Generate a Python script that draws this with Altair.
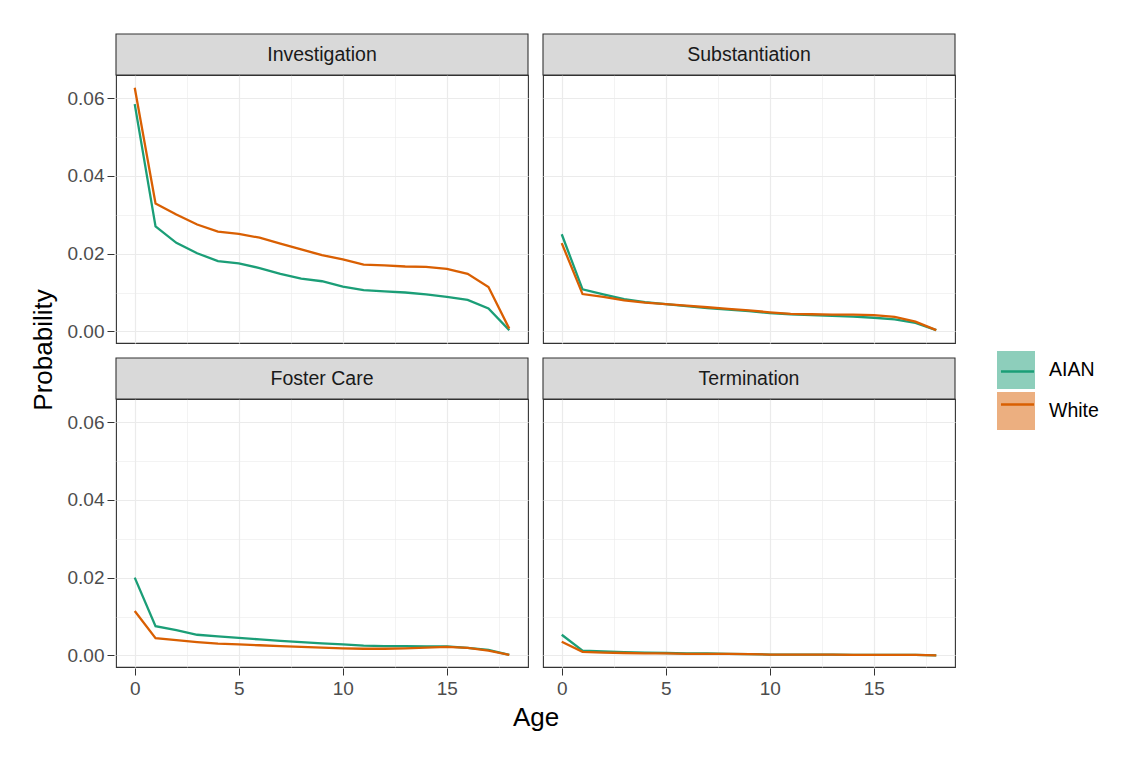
import altair as alt
import pandas as pd

ages = list(range(19))
panels = ["Investigation", "Substantiation", "Foster Care", "Termination"]
groups = ["AIAN", "White"]
line_colors = ["#1B9E77", "#D95F02"]
key_fills = ["#8DCEBB", "#ECAF80"]

inv_aian = [0.0585, 0.0270, 0.0228, 0.0201, 0.0181, 0.0175, 0.0163, 0.0148, 0.0136, 0.0129,
            0.0115, 0.0106, 0.0103, 0.0100, 0.0095, 0.0089, 0.0081, 0.0059, 0.0003]
inv_white = [0.0627, 0.0329, 0.0301, 0.0275, 0.0257, 0.0251, 0.0241, 0.0226, 0.0211, 0.0196,
             0.0185, 0.0172, 0.0170, 0.0167, 0.0166, 0.0161, 0.0148, 0.0114, 0.0007]
sub_aian = [0.0250, 0.0108, 0.0095, 0.0083, 0.0075, 0.0070, 0.0065, 0.0060, 0.0056, 0.0052,
            0.0047, 0.0044, 0.0042, 0.0040, 0.0038, 0.0035, 0.0031, 0.0022, 0.0003]
sub_white = [0.0227, 0.0096, 0.0089, 0.0080, 0.0074, 0.0070, 0.0066, 0.0062, 0.0058, 0.0054,
             0.0049, 0.0045, 0.0044, 0.0043, 0.0043, 0.0042, 0.0037, 0.0025, 0.0003]
fc_aian = [0.0200, 0.0075, 0.0065, 0.0053, 0.0049, 0.0045, 0.0041, 0.0037, 0.0034, 0.0031,
           0.0028, 0.0025, 0.0024, 0.0024, 0.0023, 0.0023, 0.0019, 0.0014, 0.0001]
fc_white = [0.0114, 0.0044, 0.0039, 0.0034, 0.0030, 0.0028, 0.0026, 0.0024, 0.0022, 0.0020,
            0.0018, 0.0017, 0.0017, 0.0018, 0.0020, 0.0022, 0.0019, 0.0012, 0.0001]
term_aian = [0.0053, 0.0012, 0.0010, 0.0008, 0.0007, 0.0006, 0.0005, 0.0005, 0.0004, 0.0003,
             0.0002, 0.0002, 0.0002, 0.0002, 0.0001, 0.0001, 0.0001, 0.0001, 0.0000]
term_white = [0.0035, 0.0009, 0.0007, 0.0006, 0.0005, 0.0005, 0.0004, 0.0004, 0.0004, 0.0003,
              0.0002, 0.0002, 0.0002, 0.0002, 0.0001, 0.0001, 0.0001, 0.0001, 0.0000]

x_ticks = [0, 2.5, 5, 7.5, 10, 12.5, 15, 17.5]
y_ticks = [0.0, 0.01, 0.02, 0.03, 0.04, 0.05, 0.06]

series = {
    "Investigation": (inv_aian, inv_white),
    "Substantiation": (sub_aian, sub_white),
    "Foster Care": (fc_aian, fc_white),
    "Termination": (term_aian, term_white),
}

rows = []
for i, p in enumerate(panels):
    for g, vals in zip(groups, series[p]):
        for a, v in zip(ages, vals):
            rows.append({"panel": p, "prow": i // 2, "pcol": i % 2, "group": g, "key": g,
                         "age": a, "prob": v})
df = pd.DataFrame(rows)

W, H = 412, 268
STRIP = 41
FONT = "Liberation Sans"
LX, LY = 881, 276

grid_w = {"condition": {"test": "datum.value % 5 != 0", "value": 0.6}, "value": 1.2}
tick_o = {"condition": {"test": "datum.value % 5 != 0", "value": 0}, "value": 1}
ygrid_w = {"condition": {"test": "round(datum.value * 100) % 2 != 0", "value": 0.6}, "value": 1.2}
ytick_o = {"condition": {"test": "round(datum.value * 100) % 2 != 0", "value": 0}, "value": 1}

x_enc = alt.X("age:Q", scale=alt.Scale(domain=[-0.9, 18.9], nice=False, zero=False),
              axis=alt.Axis(values=x_ticks, format=".0f",
                            labelExpr="datum.value % 5 == 0 ? datum.label : ''",
                            gridWidth=grid_w, tickOpacity=tick_o, title=None,
                            labelPadding=4))
y_enc = alt.Y("prob:Q", scale=alt.Scale(domain=[-0.0030, 0.0660], nice=False, zero=False),
              axis=alt.Axis(values=y_ticks, format=".2f",
                            labelExpr="round(datum.value * 100) % 2 == 0 ? datum.label : ''",
                            gridWidth=ygrid_w, tickOpacity=ytick_o, title=None,
                            labelPadding=3))

base = alt.Chart()

# legend keys: light filled squares (drawn first)
keys = base.mark_point(filled=True, size=0, opacity=0).encode(
    x=x_enc, y=y_enc,
    fill=alt.Fill("key:N", scale=alt.Scale(domain=groups, range=key_fills),
                  legend=alt.Legend(title=None, orient="none", legendX=LX, legendY=LY,
                                    symbolType="square", symbolSize=1444, symbolOpacity=1,
                                    symbolStrokeWidth=0, labelFontSize=19.5,
                                    labelColor="#000000", labelFont=FONT, rowPadding=3,
                                    labelOffset=14)),
)

# the lines themselves (stroke legend drawn over the squares, no labels)
lines = base.mark_line(strokeWidth=2.3).encode(
    x=x_enc, y=y_enc,
    stroke=alt.Stroke("group:N", scale=alt.Scale(range=line_colors),
                      legend=alt.Legend(title=None, orient="none", legendX=LX, legendY=LY,
                                        symbolType="M-0.87,0H0.87", symbolSize=1444,
                                        symbolStrokeWidth=2.3, labelExpr="''",
                                        labelFontSize=19.5, labelFont=FONT, labelOffset=14,
                                        rowPadding=3)),
)

strip_src = base.transform_filter("datum.age == 0 && datum.group == 'AIAN'")
strip_rect = strip_src.mark_rect(fill="#D9D9D9", stroke="#333333", strokeWidth=1.1).encode(
    x=alt.value(0), x2=alt.value(W), y=alt.value(-STRIP), y2=alt.value(0))
strip_text = strip_src.mark_text(fontSize=19.5, color="#1A1A1A", font=FONT,
                                 baseline="middle", align="center").encode(
    x=alt.value(W / 2), y=alt.value(-STRIP / 2), text="panel:N")

layer = alt.layer(strip_rect, strip_text, keys, lines).properties(width=W, height=H)

chart = layer.facet(
    data=df,
    row=alt.Row("prow:O", title="Probability",
                header=alt.Header(labels=False, titleOrient="left", titleFontSize=26,
                                  titleFont=FONT, titleColor="#000000", titleFontWeight="normal",
                                  titlePadding=0, labelPadding=0)),
    column=alt.Column("pcol:O", title="Age",
                      header=alt.Header(labels=False, titleOrient="bottom", titleFontSize=26,
                                        titleFont=FONT, titleColor="#000000",
                                        titleFontWeight="normal", titlePadding=-3,
                                        labelPadding=0)),
    spacing={"row": 12, "column": 11},
).properties(
    padding={"left": 22, "top": 24, "right": 5, "bottom": 5},
    background="white",
).configure_view(
    stroke="#333333", strokeWidth=1.1
).configure_axis(
    labelFont=FONT, labelFontSize=19, labelColor="#4D4D4D", tickColor="#333333",
    tickSize=7, domain=False, gridColor="#EBEBEB",
)

chart.save("out.html", embed_options={"renderer": "svg", "actions": False})
